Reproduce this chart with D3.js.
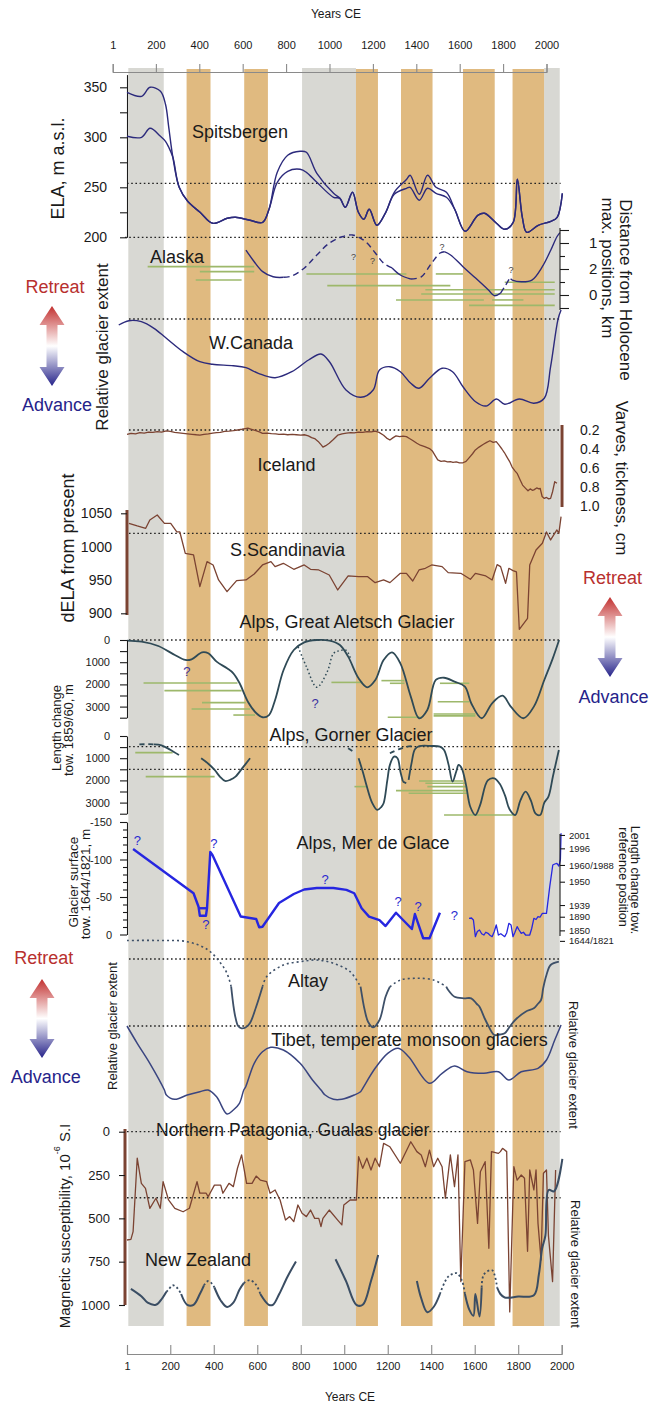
<!DOCTYPE html>
<html>
<head>
<meta charset="utf-8">
<title>Glacier fluctuations, years CE</title>
<script src="https://d3js.org/d3.v7.min.js"></script>
<style>
  body { margin: 0; background: #fff; }
  text { font-family: "Liberation Sans", Arial, Helvetica, sans-serif; }
</style>
</head>
<body>
<div id="chart"></div>
<script>
// ---------------- data ----------------
const yearTicks = [1, 200, 400, 600, 800, 1000, 1200, 1400, 1600, 1800, 2000];
const greyBands = [[7, 170], [806, 1054], [1919, 1991]];
const orangeBands = [[275, 385], [540, 649], [1054, 1155], [1261, 1406], [1546, 1692], [1774, 1919]];

// Spitsbergen ELA, m a.s.l.
const spitsUpper = [[1,345],[68,341],[107,350],[155,346],[178,333],[193,310],[212,280],[241,250],[280,236],[337,225],[395,214],[462,219],[500,220],[567,217],[625,215],[654,228],[692,265],[740,282],[797,286],[826,285],[874,264],[951,244],[980,239],[1005,230],[1038,245],[1065,225],[1090,218],[1115,228],[1150,212],[1191,225],[1230,245],[1287,258],[1303,262],[1345,243],[1383,262],[1422,250],[1470,245],[1508,228],[1556,206],[1614,222],[1645,224],[1700,214],[1738,208],[1777,215],[1796,258],[1819,220],[1839,205],[1892,212],[1950,216],[1979,220],[2003,244]];
const spitsLower = [[1,301],[68,300],[107,309],[155,301],[178,296],[193,290],[212,280],[241,250],[280,236],[337,225],[395,214],[462,219],[500,220],[567,217],[625,215],[654,228],[692,255],[740,266],[797,268],[826,265],[874,255],[951,240],[980,239],[1005,230],[1038,245],[1065,225],[1090,218],[1115,228],[1150,212],[1191,225],[1230,243],[1287,249],[1303,250],[1345,237],[1383,249],[1422,244],[1470,240],[1508,228],[1556,206],[1614,222],[1645,224],[1700,214],[1738,208],[1777,215],[1796,258],[1819,220],[1839,205],[1892,212],[1950,216],[1979,220],[2003,244]];
const spitsTicks = [200, 225, 250, 275, 300, 325, 350];

// Alaska (distance axis, tick units)
const alaskaTickLabels = ["", "1", "", "2", "", "0", ""];
const alaskaSolid = [
  [[548,1.54],[586,2.44],[625,3.2],[673,3.6],[721,3.64]],
  [[1220,2.92],[1258,3.46],[1306,3.77]],
  [[1460,1.67],[1489,1.92],[1546,2.82],[1604,3.7],[1662,4.6],[1690,5.05],[1719,4.85]],
  [[1765,3.75],[1773,3.85],[1815,3.98],[1863,3.85],[1911,2.82],[1950,1.54],[1978,0.52],[1992,0.2]]
];
const alaskaDashed = [
  [[721,3.64],[759,3.54],[817,2.92],[874,1.92],[932,1.0],[990,0.52],[1038,0.38],[1076,0.64],[1105,1.0],[1143,1.77],[1182,2.56],[1220,2.92]],
  [[1306,3.77],[1354,3.6],[1402,2.54],[1441,1.77],[1460,1.67]],
  [[1719,4.85],[1738,4.36],[1761,3.7]]
];
const alaskaGreen = [[96,586,2.82],[336,586,3.2],[317,528,3.85],[826,1286,3.38],[922,1488,4.28],[1421,1546,3.38],[1373,1968,4.6],[1354,1968,4.92],[1238,1642,5.38],[1680,1824,5.38],[1574,1968,5.8],[1738,1968,4.02]];
const alaskaQ = [[1043,2.05],[1130,2.38],[1450,1.28],[1767,3.08]];

// W. Canada (relative extent)
const canada = [[-37,85],[10,89.3],[67,88.3],[125,81.7],[182,71.7],[259,58.3],[336,48.3],[394,45.7],[490,44.3],[548,42.3],[605,36.7],[682,32.3],[759,38.3],[836,50],[893,56],[932,48.3],[1008,20],[1076,12.7],[1133,20],[1162,40],[1210,43.3],[1258,38.3],[1306,26.7],[1344,21.7],[1392,31.7],[1450,41.7],[1498,38.3],[1546,23.3],[1604,8.3],[1652,4],[1700,11],[1738,5.7],[1805,11],[1872,6.7],[1920,11.7],[1949,43.3],[1983,90.7],[1997,100]];

// Iceland varves thickness, cm
const iceland = [[1,0.245],[20,0.235],[40,0.24],[60,0.228],[80,0.232],[100,0.222],[120,0.225],[140,0.218],[160,0.222],[182,0.21],[200,0.215],[220,0.225],[240,0.23],[259,0.235],[280,0.24],[300,0.245],[320,0.25],[336,0.253],[355,0.245],[375,0.24],[395,0.232],[413,0.228],[430,0.225],[450,0.215],[470,0.212],[490,0.207],[510,0.2],[530,0.192],[545,0.185],[557,0.18],[570,0.19],[590,0.205],[610,0.22],[624,0.235],[645,0.232],[665,0.238],[685,0.24],[700,0.245],[720,0.243],[740,0.25],[760,0.245],[780,0.25],[800,0.255],[816,0.25],[835,0.262],[850,0.28],[864,0.29],[880,0.32],[895,0.36],[902,0.38],[915,0.365],[931,0.34],[950,0.3],[970,0.255],[990,0.24],[1010,0.232],[1030,0.228],[1046,0.23],[1065,0.222],[1085,0.225],[1105,0.218],[1125,0.22],[1142,0.212],[1160,0.225],[1181,0.255],[1195,0.285],[1210,0.305],[1225,0.28],[1238,0.262],[1255,0.27],[1270,0.265],[1286,0.27],[1300,0.29],[1315,0.31],[1334,0.34],[1350,0.36],[1370,0.375],[1392,0.395],[1405,0.42],[1418,0.47],[1430,0.515],[1445,0.53],[1460,0.525],[1475,0.535],[1488,0.533],[1500,0.54],[1515,0.535],[1530,0.545],[1546,0.545],[1560,0.53],[1575,0.49],[1590,0.45],[1603,0.41],[1620,0.38],[1640,0.35],[1655,0.33],[1670,0.313],[1685,0.33],[1699,0.323],[1712,0.36],[1725,0.4],[1737,0.44],[1747,0.48],[1760,0.53],[1772,0.59],[1785,0.63],[1795,0.656],[1808,0.72],[1820,0.78],[1834,0.814],[1845,0.84],[1855,0.82],[1865,0.835],[1872,0.83],[1885,0.81],[1895,0.82],[1901,0.814],[1910,0.9],[1920,0.92],[1930,0.91],[1940,0.925],[1949,0.92],[1958,0.85],[1968,0.744],[1978,0.76]];
const icelandTicks = [0.2, 0.4, 0.6, 0.8, 1.0];

// S. Scandinavia dELA
const scand = [[10,1035],[48,1031],[87,1027.5],[106,1040],[140,1047.5],[173,1035],[202,1035],[230,1022],[244,1022],[269,990],[307,987.5],[336,940],[369,977.5],[397,972.5],[422,950],[461,932.5],[505,949],[548,950],[586,959],[624,972.5],[663,977.5],[682,970],[720,975],[768,966],[816,972.5],[845,966],[883,965],[931,957.5],[970,935],[1018,956],[1066,955],[1108,955],[1142,946],[1181,950],[1210,946],[1258,960],[1286,960],[1315,948.5],[1344,965],[1373,967.5],[1402,972.5],[1450,970],[1478,961],[1536,960],[1580,951],[1603,960],[1651,956],[1680,950],[1703,973],[1719,970],[1742,945],[1757,967.5],[1776,964],[1792,962],[1805,876],[1843,892.5],[1853,972.5],[1882,995],[1911,1005],[1930,1022],[1949,1010],[1978,1025],[1987,1020],[1997,1045]];
const scandTicks = [900, 950, 1000, 1050];

// Great Aletsch length change, m
const aletsch = [[1,30],[68,75],[145,270],[221,675],[269,900],[298,870],[346,555],[375,600],[413,975],[461,1275],[490,1500],[519,1950],[557,2780],[596,3300],[625,3480],[654,3380],[682,2700],[721,1350],[768,450],[816,105],[874,0],[932,30],[980,225],[1018,750],[1066,1725],[1105,2130],[1143,1800],[1181,900],[1220,555],[1258,1050],[1306,2550],[1344,3525],[1382,3150],[1421,1800],[1459,1700],[1507,1875],[1555,2100],[1584,2850],[1632,3525],[1680,2850],[1728,2510],[1766,3000],[1824,3525],[1872,3000],[1920,1800],[1959,825],[1988,0]];
const aletschAlt = [[788,310],[826,1200],[874,2130],[922,1428],[951,600],[980,480],[1010,470],[1030,880]];
const aletschGreen = [[77,509,1940],[173,528,2280],[346,547,2820],[298,567,3110],[490,590,3380],[941,1085,1910],[1171,1277,1830],[1210,1277,1950],[1440,1575,1950],[1430,1575,2780],[1411,1603,3330],[1411,1603,3420],[1200,1354,3480]];
const aletschQ = [[276,1428],[866,2852]];
const lengthTicks = [0, 500, 1000, 1500, 2000, 2500, 3000, 3500];

// Gorner length change, m
const gornerSolid = [
  [[125,380],[160,420],[200,620],[240,860]],
  [[342,1005],[375,1250],[404,1530],[430,1850],[452,2025],[475,1980],[500,1830],[535,1400],[567,1005]],
  [[1066,1005],[1085,1600],[1104,2280],[1128,3000],[1152,3330],[1170,3200],[1181,3030],[1198,2000],[1210,1300],[1229,930],[1245,1000],[1258,1600],[1270,2055]],
  [[1296,1980],[1310,1200],[1325,600],[1345,460],[1400,450],[1440,480],[1459,630],[1480,1300],[1498,2055],[1515,1600],[1526,1305],[1540,1450],[1560,2200],[1580,3200],[1603,3560],[1625,3100],[1660,2000],[1690,1905],[1715,2150],[1740,2700],[1760,3300],[1786,3560],[1810,2900],[1834,2505],[1858,2900],[1880,3500],[1901,3560],[1920,3000],[1939,2730],[1960,1800],[1987,630]]
];
const gornerDashed = [
  [[58,380],[95,370],[125,380]],
  [[1018,555],[1040,700]],
  [[1270,2055],[1285,2130]],
  [[1210,780],[1250,600],[1290,480],[1320,450]]
];
const gornerGreen = [[39,211,750],[87,404,1830],[1047,1104,2280],[1344,1546,2030],[1373,1555,2130],[1382,1565,2280],[1238,1565,2460],[1296,1565,2580],[1459,1786,3560]];
const gornerRefs = [480, 1500];

// Mer de Glace surface, m
const merMain = [[29,-114],[307,-55],[330,-37],[336,-25],[364,-25],[369,-35],[384,-110],[394,-106],[524,-24],[595,-20.7],[609,-9.6],[624,-10.4],[700,-42],[768,-54],[816,-60],[874,-62],[950,-62],[1010,-59.5],[1046,-55],[1080,-35],[1114,-23.8],[1162,-19.3],[1190,-11.3],[1238,-29],[1311,-7.3],[1325,-27.3],[1363,5],[1392,5],[1440,-29]];
const merBox = [[330,-35],[369,-35]];
const merRecent = [[1574,-21.6],[1585,-22],[1594,-19.3],[1603,2.9],[1612,-4],[1622,-6],[1632,-1],[1642,0.7],[1651,-3],[1661,-1.6],[1670,1],[1680,2.9],[1690,-4],[1699,-12.7],[1709,0.7],[1720,-1],[1738,2.9],[1747,-2],[1757,-14.9],[1767,-12.7],[1776,2.9],[1785,-3],[1795,-10.4],[1804,-6],[1814,-1.6],[1824,-3],[1834,0.7],[1853,0.7],[1862,-8],[1872,-21.6],[1882,-20],[1891,-23.8],[1900,-23],[1911,-28.2],[1930,-28.2],[1945,-63.8],[1959,-92.7],[1968,-94],[1978,-94.9],[1987,-91.3],[1994,-100],[1997,-135]];
const merTicks = [-150,-140,-130,-120,-110,-100,-90,-80,-70,-60,-50,-40,-30,-20,-10,0];
const merRightLabels = ["2001", "1996", "1960/1988", "1950", "1939", "1890", "1850", "1644/1821"];
const merRightPos = [-132.7, -114.9, -92.7, -70.4, -39.3, -23.7, -5.5, 8.5];
const merQ = [[49,-126],[400,-120.7],[364,-12.7],[912,-72.7],[1248,-43.7],[1340,-38],[1506,-24.7]];

// Altay (relative extent)
const altaySolid = [
  [[480,53.3],[490,35],[499,23.3],[512,14],[528,11.7],[546,12.5],[566,16.7],[595,33.3],[624,53.3]],
  [[1075,53.3],[1085,40],[1094,30],[1110,18],[1133,12.7],[1162,20],[1190,43.3],[1210,53.3]],
  [[1469,53.3],[1478,50],[1507,43.3],[1550,41.7],[1584,41.7],[1610,36],[1622,33.3],[1645,22],[1661,15],[1690,5],[1715,5.5],[1738,6.7],[1760,13],[1786,20],[1834,28.3],[1872,31.7],[1890,36],[1905,40],[1915,52],[1930,65],[1949,75],[1987,78.3]]
];
const altayDashed = [
  [[1,99.5],[150,99.5],[278,98.3],[374,90],[432,76.7],[461,66.7],[480,53.3]],
  [[624,53.3],[643,63.3],[720,75],[797,78.3],[874,80],[950,76.7],[1027,68.3],[1075,53.3]],
  [[1210,53.3],[1258,60],[1334,61.7],[1411,60],[1469,53.3]]
];
const altayRefs = [81, 14];

// Tibet (relative extent)
const tibet = [[1,89],[48,71.7],[106,51.7],[173,25],[182,20],[221,15.7],[278,20],[336,23.3],[374,25],[413,18.3],[461,1],[490,5],[518,11.7],[538,25],[547,28.3],[586,51.7],[624,63.3],[662,67.7],[720,65],[797,51.7],[854,35],[893,25],[912,20],[950,15.7],[989,15.7],[1046,20],[1075,23.3],[1085,26.7],[1142,46.7],[1200,61.7],[1248,66.7],[1296,58.3],[1392,31.7],[1450,41.7],[1507,49],[1565,43.3],[1642,41.7],[1709,43.3],[1757,35],[1814,43.3],[1891,46.7],[1930,55],[1968,75],[1997,90]];

// Northern Patagonia magnetic susceptibility
const patagonia = [[1,625],[19,621],[29,577],[48,153],[67,298],[86,327],[106,442],[134,384],[154,442],[167,288],[192,394],[221,442],[259,462],[288,442],[323,288],[336,355],[365,355],[374,375],[403,308],[432,308],[442,355],[470,298],[490,317],[509,211],[528,134],[551,298],[576,298],[595,256],[614,279],[643,288],[659,355],[682,336],[705,394],[730,510],[749,490],[768,519],[787,423],[806,471],[826,490],[845,452],[864,500],[883,500],[893,548],[902,500],[931,452],[970,510],[989,538],[998,423],[1027,394],[1056,394],[1066,144],[1085,211],[1104,153],[1123,221],[1142,153],[1162,202],[1181,67],[1210,87],[1258,182],[1306,58],[1334,115],[1354,134],[1373,202],[1392,106],[1411,202],[1430,153],[1450,202],[1465,384],[1488,134],[1507,317],[1523,134],[1536,865],[1555,173],[1580,163],[1594,221],[1613,529],[1626,231],[1648,173],[1665,673],[1677,115],[1709,125],[1718,115],[1728,96],[1747,115],[1761,1040],[1780,202],[1795,279],[1814,250],[1829,269],[1843,690],[1853,221],[1872,336],[1882,221],[1891,529],[1905,740],[1916,240],[1930,221],[1939,600],[1958,865],[1972,221]];
const pataTicks = [0, 250, 500, 750, 1000];
const pataRefs = [0, 381];

// New Zealand (relative extent)
const nzSolid = [
  [[19,24],[67,18.3],[96,13.3],[134,11.7],[163,16.7],[182,21.7]],
  [[250,20],[278,11.7],[307,11.7],[336,20],[355,26.7]],
  [[403,25],[432,15],[461,10],[490,13.3],[518,23.3],[538,28.3]],
  [[614,20],[653,11.7],[672,11.7],[701,20],[739,33.3],[778,45]],
  [[960,46.7],[1008,30],[1056,11.7],[1085,11.7],[1123,30],[1156,50]],
  [[1334,30],[1354,16.7],[1382,6],[1411,10],[1440,20]],
  [[1555,20],[1575,8],[1594,3.3],[1603,20],[1622,2.7],[1632,25]],
  [[1703,25],[1718,20],[1738,17.3],[1800,18],[1872,19],[1895,35],[1910,55],[1925,65],[1940,100],[1965,99],[2003,124]]
];
const nzDashed = [
  [[182,21.7],[192,23.3],[211,26.7],[230,25],[250,20]],
  [[355,26.7],[374,30],[394,27.5],[403,25]],
  [[538,28.3],[566,30.7],[595,27],[614,20]],
  [[1440,20],[1478,33.3],[1517,36],[1542,30],[1555,20]],
  [[1632,25],[1642,35],[1680,38.3],[1703,25]]
];

// ---------------- layout ----------------
const W = 649, H = 1404;
const FONT = '"Liberation Sans", Arial, Helvetica, sans-serif';
const NAVY = "#2c2a7c", BROWN = "#7b4332", TEAL = "#2f4a56", GREEN = "#9db86b", BLUE = "#2626e0";

const svg = d3.select("#chart").append("svg").attr("width", W).attr("height", H);

const x = d3.scaleLinear().domain([1, 2000]).range([127, 561.7]);
const xTop = d3.scaleLinear().domain([1, 2000]).range([112.7, 546.5]);

const ySpits = d3.scaleLinear().domain([200, 362.7]).range([237.3, 74.6]);
const yAlaska = d3.scaleLinear().domain([0, 6]).range([230, 308]);
const yCanada = d3.scaleLinear().domain([0, 100]).range([410, 310]);
const yIce = d3.scaleLinear().domain([0.2, 1.0]).range([430, 506]);
const yScand = d3.scaleLinear().domain([900, 1050]).range([613.3, 513.3]);
const yAlet = d3.scaleLinear().domain([0, 3500]).range([640, 717.7]);
const yGorn = d3.scaleLinear().domain([0, 3500]).range([736, 813.7]);
const yMer = d3.scaleLinear().domain([-150, 0]).range([822, 934.5]);
const yAltay = d3.scaleLinear().domain([0, 100]).range([1040, 940]);
const yTibet = d3.scaleLinear().domain([0, 100]).range([1115, 1015]);
const yPata = d3.scaleLinear().domain([0, 1000]).range([1131.7, 1305]);
const yNZ = d3.scaleLinear().domain([0, 100]).range([1320, 1190]);

// bands
const bandTop = 68, bandBottom = 1326;
svg.selectAll(".grey").data(greyBands).join("rect")
  .attr("x", d => x(d[0])).attr("width", d => x(d[1]) - x(d[0]))
  .attr("y", bandTop).attr("height", bandBottom - bandTop).attr("fill", "#d8d8d3");
svg.selectAll(".orange").data(orangeBands).join("rect")
  .attr("x", d => x(d[0])).attr("width", d => x(d[1]) - x(d[0]))
  .attr("y", bandTop + 1).attr("height", bandBottom - bandTop - 1).attr("fill", "#e0ba80");

// helpers
function txt(s, cx, cy, size, opts = {}) {
  const t = svg.append("text").attr("x", cx).attr("y", cy)
    .attr("font-size", size).attr("text-anchor", opts.anchor || "middle")
    .attr("dominant-baseline", "central").attr("fill", opts.fill || "#1a1a1a").text(s);
  if (opts.rot) t.attr("transform", `rotate(${opts.rot},${cx},${cy})`);
  return t;
}
function draw(pts, ys, color, width, opts = {}) {
  const gen = d3.line().x(d => x(d[0])).y(d => ys(d[1]))
    .curve(opts.curve || d3.curveCatmullRom.alpha(0.5));
  svg.append("path").datum(pts).attr("d", gen)
    .attr("fill", "none").attr("stroke", color).attr("stroke-width", width)
    .attr("stroke-dasharray", opts.dash || null)
    .attr("stroke-linejoin", "round").attr("stroke-linecap", opts.cap || "butt");
}
function dotted(ys, v, y0 = 1, y1 = 1990) {
  svg.append("line").attr("x1", x(y0)).attr("x2", x(y1))
    .attr("y1", ys(v)).attr("y2", ys(v))
    .attr("stroke", "#222").attr("stroke-width", 1.3).attr("stroke-dasharray", "1.6,2.6");
}
function greens(arr, ys) {
  svg.append("g").selectAll("line").data(arr).join("line")
    .attr("x1", d => x(d[0])).attr("x2", d => x(d[1]))
    .attr("y1", d => ys(d[2])).attr("y2", d => ys(d[2]))
    .attr("stroke", GREEN).attr("stroke-width", 1.6);
}
function styleAxis(g, size, color = "#1a1a1a") {
  g.attr("font-family", FONT).attr("font-size", size);
  g.selectAll("path, line").attr("stroke", color).attr("stroke-width", 1.1);
  g.selectAll("text").attr("fill", "#1a1a1a");
}

// arrow gradient
const defs = svg.append("defs");
const grad = defs.append("linearGradient").attr("id", "arrowGrad")
  .attr("x1", 0).attr("y1", 0).attr("x2", 0).attr("y2", 1);
grad.append("stop").attr("offset", "0%").attr("stop-color", "#c2302f");
grad.append("stop").attr("offset", "50%").attr("stop-color", "#ffffff");
grad.append("stop").attr("offset", "100%").attr("stop-color", "#26238a");
function arrow(cx, top, bot) {
  const hw = 12.5, sw = 5.5, hh = 19;
  const p = `M${cx},${top} L${cx + hw},${top + hh} L${cx + sw},${top + hh} L${cx + sw},${bot - hh}
    L${cx + hw},${bot - hh} L${cx},${bot} L${cx - hw},${bot - hh} L${cx - sw},${bot - hh}
    L${cx - sw},${top + hh} L${cx - hw},${top + hh} Z`;
  svg.append("path").attr("d", p).attr("fill", "url(#arrowGrad)");
}

// ---------------- axes: years ----------------
svg.append("g").attr("transform", "translate(0,72)")
  .call(d3.axisTop(xTop).tickValues(yearTicks).tickSize(8).tickPadding(15).tickFormat(d3.format("d")))
  .call(g => styleAxis(g, 11, "#8a8a8a"));
txt("Years CE", 336, 14, 12);

svg.append("g").attr("transform", "translate(0,1354)")
  .call(d3.axisBottom(x).tickValues(yearTicks).tickSizeInner(-9).tickSizeOuter(-9).tickPadding(8).tickFormat(d3.format("d")))
  .call(g => styleAxis(g, 11, "#8a8a8a"));
txt("Years CE", 350, 1397, 12);

// ---------------- Spitsbergen ----------------
dotted(ySpits, 254, 1, 1995);
dotted(ySpits, 200, -8, 1963);
svg.append("g").attr("transform", "translate(127,0)")
  .call(d3.axisLeft(ySpits).tickValues(spitsTicks).tickSizeInner(7).tickSizeOuter(0).tickPadding(13)
    .tickFormat(d => d % 50 === 0 ? d : ""))
  .call(g => styleAxis(g, 14));
draw(spitsUpper, ySpits, NAVY, 1.4);
draw(spitsLower, ySpits, NAVY, 1.4);
txt("Spitsbergen", 240, 131.7, 18);
txt("ELA, m a.s.l.", 58, 168.5, 18, { rot: -90 });

// ---------------- Alaska ----------------
greens(alaskaGreen, yAlaska);
alaskaSolid.forEach(s => draw(s, yAlaska, NAVY, 1.4));
alaskaDashed.forEach(s => draw(s, yAlaska, NAVY, 1.4, { dash: "6,4" }));
alaskaQ.forEach(q => txt("?", x(q[0]), yAlaska(q[1]), 9, { fill: "#444" }));
svg.append("g").attr("transform", "translate(560,0)")
  .call(d3.axisRight(yAlaska).tickValues(d3.range(0, 7)).tickSizeInner(9).tickSizeOuter(0).tickPadding(20)
    .tickFormat(d => alaskaTickLabels[d]))
  .call(g => styleAxis(g, 15))
  .call(g => g.selectAll(".tick line").attr("x2", d => (d === 2 || d === 4) ? 5 : 9))
  .call(g => g.select(".domain").attr("d", "M0,228V310"));
txt("Alaska", 177, 257, 18);
txt("Distance from Holocene", 625, 290, 17, { rot: 90 });
txt("max. positions, km", 607, 268, 17, { rot: 90 });

// ---------------- W. Canada ----------------
dotted(yCanada, 91, 10, 1995);
draw(canada, yCanada, NAVY, 1.4);
txt("W.Canada", 251, 343, 18);
txt("Relative glacier extent", 102, 347, 17, { rot: -90 });
arrow(52, 306, 386);
txt("Retreat", 55, 287, 18, { fill: "#b8302e" });
txt("Advance", 57, 405, 18, { fill: "#26238a" });

// ---------------- Iceland ----------------
dotted(yIce, 0.2, 10, 1995);
draw(iceland, yIce, BROWN, 1.3, { curve: d3.curveLinear });
svg.append("g").attr("transform", "translate(562,0)")
  .call(d3.axisRight(yIce).tickValues(icelandTicks).tickSize(0).tickPadding(18).tickFormat(d3.format(".1f")))
  .call(g => styleAxis(g, 14))
  .call(g => g.select(".domain").attr("d", "M0,425V507").attr("stroke", BROWN).attr("stroke-width", 3));
txt("Iceland", 286.5, 465, 18);
txt("Varves, tickness, cm", 621, 478, 17, { rot: 90 });

// ---------------- S. Scandinavia ----------------
dotted(yScand, 1020, 10, 1995);
draw(scand, yScand, BROWN, 1.3, { curve: d3.curveLinear });
svg.append("g").attr("transform", "translate(127,0)")
  .call(d3.axisLeft(yScand).tickValues(scandTicks).tickSizeInner(6).tickSizeOuter(0).tickPadding(9)
    .tickFormat(d3.format("d")))
  .call(g => styleAxis(g, 14))
  .call(g => g.selectAll(".tick line").attr("stroke-opacity", d => (d === 900 || d === 1050) ? 1 : 0))
  .call(g => g.select(".domain").attr("d", "M0,510V615").attr("stroke", BROWN).attr("stroke-width", 3));
txt("S.Scandinavia", 287.5, 550, 18);
txt("dELA from present", 68, 548, 18, { rot: -90 });
arrow(610, 597, 677);
txt("Retreat", 612.5, 578, 18, { fill: "#b8302e" });
txt("Advance", 613.5, 697, 18, { fill: "#26238a" });

// ---------------- Great Aletsch ----------------
dotted(yAlet, 0, 10, 1995);
greens(aletschGreen, yAlet);
draw(aletsch, yAlet, TEAL, 1.8);
draw(aletschAlt, yAlet, TEAL, 1.5, { dash: "1.5,2.5" });
aletschQ.forEach(q => txt("?", x(q[0]), yAlet(q[1]), 13, { fill: "#3a32a0" }));
svg.append("g").attr("transform", "translate(127,0)")
  .call(d3.axisLeft(yAlet).tickValues(lengthTicks).tickSizeInner(7).tickSizeOuter(0).tickPadding(10)
    .tickFormat(d => d % 1000 === 0 ? d : ""))
  .call(g => styleAxis(g, 11));
txt("Alps, Great Aletsch Glacier", 347, 621.7, 18);
txt("Length change", 56, 728, 13, { rot: -90 });
txt("tow. 1859/60, m", 68, 730, 13, { rot: -90 });

// ---------------- Gorner ----------------
gornerRefs.forEach(v => dotted(yGorn, v, 10, 1995));
greens(gornerGreen, yGorn);
gornerSolid.forEach(s => draw(s, yGorn, TEAL, 1.8));
gornerDashed.forEach(s => draw(s, yGorn, TEAL, 1.8, { dash: "5,4" }));
svg.append("g").attr("transform", "translate(127,0)")
  .call(d3.axisLeft(yGorn).tickValues(lengthTicks).tickSizeInner(7).tickSizeOuter(0).tickPadding(10)
    .tickFormat(d => d % 1000 === 0 ? d : ""))
  .call(g => styleAxis(g, 11));
txt("Alps, Gorner Glacier", 351, 735, 18);

// ---------------- Mer de Glace ----------------
draw(merMain, yMer, BLUE, 2.4, { curve: d3.curveLinear });
draw(merBox, yMer, BLUE, 2.4, { curve: d3.curveLinear });
draw(merRecent, yMer, BLUE, 1.3, { curve: d3.curveLinear });
merQ.forEach(q => txt("?", x(q[0]), yMer(q[1]), 13, { fill: "#2a2ad0" }));
svg.append("g").attr("transform", "translate(127,0)")
  .call(d3.axisLeft(yMer).tickValues(merTicks).tickSizeInner(7).tickSizeOuter(0).tickPadding(8)
    .tickFormat(d => d % 50 === 0 ? d : ""))
  .call(g => styleAxis(g, 11))
  .call(g => g.selectAll(".tick line").attr("x2", d => d % 50 === 0 ? -7 : -4));
svg.append("g").attr("transform", "translate(560,0)")
  .call(d3.axisRight(yMer).tickValues(merRightPos).tickSizeInner(5).tickSizeOuter(0).tickPadding(4)
    .tickFormat((d, i) => merRightLabels[i]))
  .call(g => styleAxis(g, 9.5))
  .call(g => g.select(".domain").attr("d", `M0,${yMer(-134)}V${yMer(2)}`));
txt("Alps, Mer de Glace", 373, 842.7, 18);
txt("Glacier surface", 73, 882, 13.5, { rot: -90 });
txt("tow. 1644/1821, m", 85, 884, 13.5, { rot: -90 });
txt("Length change tow.", 635, 880, 12.5, { rot: 90 });
txt("reference position", 623, 877, 12.5, { rot: 90 });

// ---------------- Altay ----------------
altayRefs.forEach(v => dotted(yAltay, v, 10, 1997));
altaySolid.forEach(s => draw(s, yAltay, "#3e5068", 1.8));
altayDashed.forEach(s => draw(s, yAltay, "#3e5068", 1.6, { dash: "2,3" }));
txt("Altay", 308, 980.7, 18);

// ---------------- Tibet ----------------
draw(tibet, yTibet, "#3a4580", 1.5);
txt("Tibet, temperate monsoon glaciers", 409.6, 1040, 18);
txt("Relative glacier extent", 112, 1026, 13, { rot: -90 });
txt("Relative glacier extent", 573, 1065, 13, { rot: 90 });
arrow(42, 979, 1058);
txt("Retreat", 43.7, 958, 18, { fill: "#b8302e" });
txt("Advance", 45.8, 1077, 18, { fill: "#26238a" });

// ---------------- Northern Patagonia ----------------
pataRefs.forEach(v => dotted(yPata, v, 1, 1995));
draw(patagonia, yPata, BROWN, 1.3, { curve: d3.curveLinear });
svg.append("g").attr("transform", "translate(125,0)")
  .call(d3.axisLeft(yPata).tickValues(pataTicks).tickSizeInner(6).tickSizeOuter(0).tickPadding(9)
    .tickFormat(d3.format("d")))
  .call(g => styleAxis(g, 13))
  .call(g => g.select(".domain").attr("d", "M0,1129V1305").attr("stroke", BROWN).attr("stroke-width", 3));
txt("Northern Patagonia, Gualas glacier", 292.7, 1130, 17.5);
const mag = svg.append("text").attr("font-size", 15).attr("text-anchor", "middle")
  .attr("dominant-baseline", "central").attr("fill", "#1a1a1a")
  .attr("transform", "translate(64,1226) rotate(-90)");
mag.append("tspan").text("Magnetic susceptibility, 10");
mag.append("tspan").attr("font-size", 9).attr("dy", -7).text("-6");
mag.append("tspan").attr("dy", 7).text(" S.I");

// ---------------- New Zealand ----------------
nzSolid.forEach(s => draw(s, yNZ, "#3a4d63", 2));
nzDashed.forEach(s => draw(s, yNZ, "#3a4d63", 1.8, { dash: "2,2.5" }));
txt("New Zealand", 198, 1260, 18);
txt("Relative glacier extent", 575, 1264, 13, { rot: 90 });
</script>
</body>
</html>
